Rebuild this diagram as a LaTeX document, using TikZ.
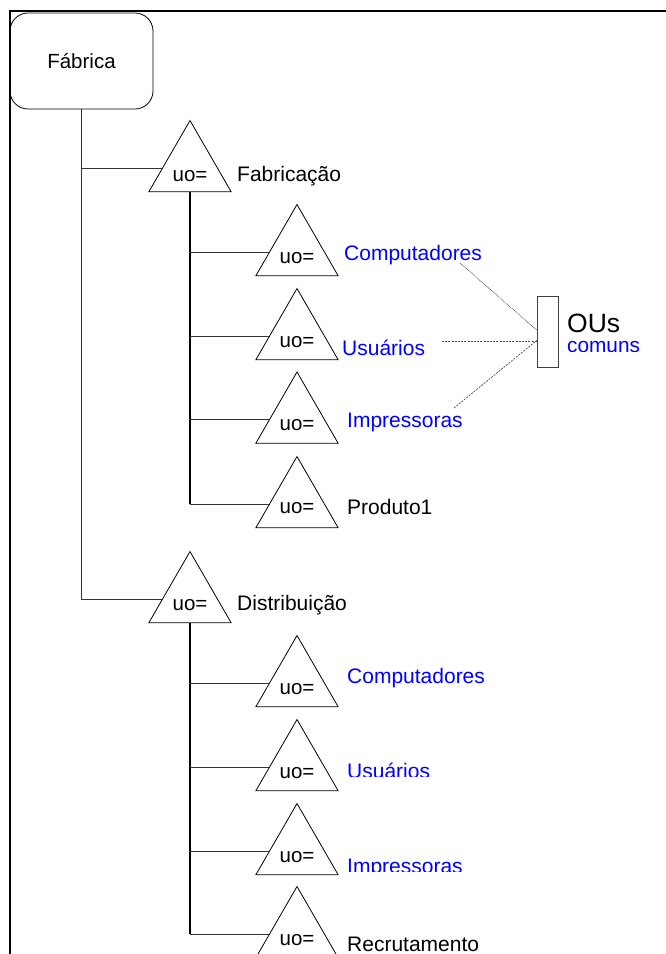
\documentclass[tikz,border=0pt]{standalone}
\usepackage{fontspec}
\setmainfont{Liberation Sans}
\usetikzlibrary{shapes.geometric}
\begin{document}
\begin{tikzpicture}[x=1pt,y=-1pt,
  ou/.style={regular polygon, regular polygon sides=3, minimum size=95pt,
    inner sep=0pt, draw, line width=0.8pt},
  uotext/.style={anchor=base, inner sep=0pt, font=\fontsize{20.5}{24}\selectfont},
  lbl/.style={anchor=base west, inner sep=0pt, font=\fontsize{21}{25}\selectfont},
  shared/.style={lbl, text=blue},
  trunk/.style={line width=1.6pt},
  branch/.style={line width=0.8pt, black!80},
  link/.style={line width=0.7pt, black!70},
]
\useasboundingbox (0,0) rectangle (666,954);

% page frame
\draw[line width=2pt] (10,954) -- (10,11) -- (666,11);

% root
\node[draw, line width=0.8pt, rounded corners=18pt, minimum width=143pt,
  minimum height=96pt, inner sep=0pt, font=\fontsize{20.5}{24}\selectfont]
  (root) at (81.5,61) {Fábrica};

% second level
\node[ou] (fab) at (190,168) {};
\node[uotext] (fabuo) at ([yshift=-13pt]fab.center) {uo=};
\node[lbl] (fablab) at (237,181.5) {Fabricação};

\node[ou] (dist) at (190,599) {};
\node[uotext] (distuo) at ([yshift=-11pt]dist.center) {uo=};
\node[lbl] (distlab) at (237,610) {Distribuição};

% children of Fabricação
\node[ou] (fc) at (297,252) {};
\node[uotext] (fcuo) at ([yshift=-11pt]fc.center) {uo=};
\node[shared] (fclab) at (344,260) {Computadores};

\node[ou] (fu) at (297,336) {};
\node[uotext] (fuuo) at ([yshift=-11pt]fu.center) {uo=};
\node[shared] (fulab) at (342,355.3) {Usuários};

\node[ou] (fi) at (297,419.5) {};
\node[uotext] (fiuo) at ([yshift=-11pt]fi.center) {uo=};
\node[shared] (filab) at (347,427.7) {Impressoras};

\node[ou] (fp) at (297,504) {};
\node[uotext] (fpuo) at ([yshift=-9pt]fp.center) {uo=};
\node[lbl] (fplab) at (347,514) {Produto1};

% children of Distribuição
\node[ou] (dc) at (297,683) {};
\node[uotext] (dcuo) at ([yshift=-11pt]dc.center) {uo=};
\node[shared] (dclab) at (347,683) {Computadores};

\node[ou] (du) at (297,767) {};
\node[uotext] (duuo) at ([yshift=-11pt]du.center) {uo=};
\begin{scope}
  \clip (330,740) rectangle (520,776.5);
  \node[shared] (dulab) at (347,778.6) {Usuários};
\end{scope}

\node[ou] (di) at (297,851) {};
\node[uotext] (diuo) at ([yshift=-11pt]di.center) {uo=};
\begin{scope}
  \clip (330,830) rectangle (520,871);
  \node[shared] (dilab) at (347,873.3) {Impressoras};
\end{scope}

\node[ou] (dr) at (297,934) {};
\node[uotext] (druo) at ([yshift=-11pt]dr.center) {uo=};
\node[lbl] (drlab) at (347,951) {Recrutamento};

% shared OUs marker
\node[draw, line width=0.8pt, black!75, minimum width=21pt, minimum height=71pt,
  inner sep=0pt] (ous) at (547.5,331.5) {};
\node[lbl, font=\fontsize{26.5}{30}\selectfont] (ouslab) at (567,332) {OUs};
\begin{scope}
  \clip (560,336) rectangle (666,351);
  \node[shared, font=\fontsize{20.8}{25}\selectfont] (comlab) at (567,352.6) {comuns};
\end{scope}

% tree connectors
\draw[branch] (root.south) -- (root.south |- dist.west) -- (dist.west);
\draw[branch] (root.south |- fab.west) -- (fab.west);

\draw[trunk] (fab.south) -- (fab.south |- fp.west);
\foreach \c in {fc,fu,fi,fp}
  \draw[branch] (fab.south |- \c.west) -- (\c.west);

\draw[trunk] (dist.south) -- (dist.south |- dr.west);
\foreach \c in {dc,du,di,dr}
  \draw[branch] (dist.south |- \c.west) -- (\c.west);

% links to the shared OUs
\coordinate (ctail) at (460,263);
\coordinate (utail) at (442,341);
\coordinate (itail) at (454,408);
\draw[link, dash pattern=on 0.8pt off 0.8pt] (ctail) -- ([yshift=1.5pt]ous.west);
\draw[link, dash pattern=on 2pt off 1.2pt] (utail) -- ([yshift=-9.5pt]ous.west);
\draw[link, dash pattern=on 2pt off 1.2pt] (itail) -- ([yshift=-9pt]ous.west);
\end{tikzpicture}
\end{document}
